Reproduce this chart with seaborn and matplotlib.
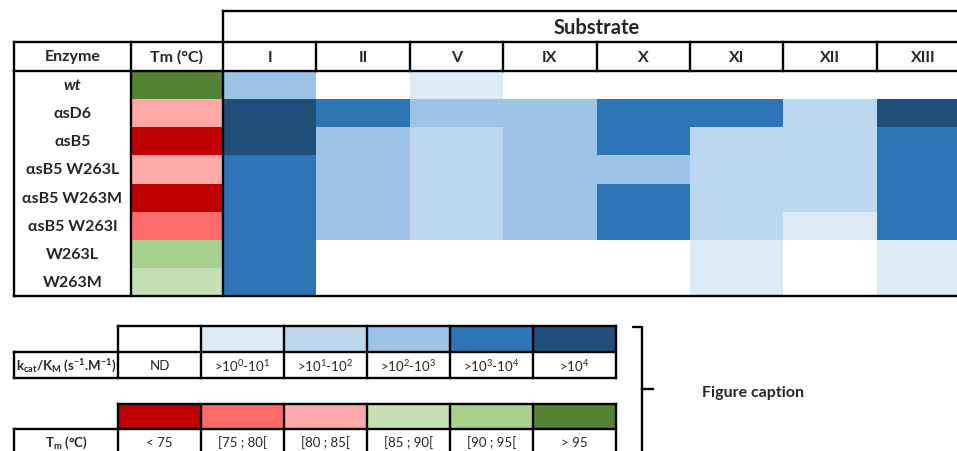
import numpy as np
import pandas as pd
import matplotlib
matplotlib.use("Agg")
import matplotlib.pyplot as plt
from matplotlib.colors import ListedColormap
import seaborn as sns

# values
enzymes = ["wt", "αsD6", "αsB5", "αsB5 W263L", "αsB5 W263M", "αsB5 W263I", "W263L", "W263M"]
substrates = ["I", "II", "V", "IX", "X", "XI", "XII", "XIII"]

# kcat/KM class per enzyme (rows) and substrate (columns): 0 = ND ... 5 = >10^4
activity = [
    [3, 0, 1, 0, 0, 0, 0, 0],
    [5, 4, 3, 3, 4, 4, 2, 5],
    [5, 3, 2, 3, 4, 2, 2, 4],
    [4, 3, 2, 3, 3, 2, 2, 4],
    [4, 3, 2, 3, 4, 2, 2, 4],
    [4, 3, 2, 3, 4, 2, 1, 4],
    [4, 0, 0, 0, 0, 1, 0, 1],
    [4, 0, 0, 0, 0, 1, 0, 1],
]

# Tm class per enzyme: 0 = <75 ... 5 = >95
tm_class = [5, 2, 0, 2, 0, 1, 4, 3]

kcat_labels = ["ND",
               r">10$^{\mathdefault{0}}$-10$^{\mathdefault{1}}$",
               r">10$^{\mathdefault{1}}$-10$^{\mathdefault{2}}$",
               r">10$^{\mathdefault{2}}$-10$^{\mathdefault{3}}$",
               r">10$^{\mathdefault{3}}$-10$^{\mathdefault{4}}$",
               r">10$^{\mathdefault{4}}$"]
tm_labels = ["< 75", "[75 ; 80[", "[80 ; 85[", "[85 ; 90[", "[90 ; 95[", "> 95"]

blues = ["#FFFFFF", "#DDEBF7", "#BDD7EE", "#9DC3E6", "#2E75B6", "#1F4E79"]
tm_colors = ["#C00000", "#FF6B6B", "#FFA8A8", "#C5E0B4", "#A9D18E", "#548235"]

sns.set_style("white")
plt.rcParams["font.family"] = ["Lato", "DejaVu Sans"]
plt.rcParams["mathtext.fontset"] = "custom"
plt.rcParams["mathtext.rm"] = "Lato"
plt.rcParams["mathtext.it"] = "Lato:italic"
plt.rcParams["mathtext.bf"] = "Lato:bold"

W, H = 957, 452
fig = plt.figure(figsize=(W / 100, H / 100), dpi=100)


def px_axes(x0, y0, x1, y1):
    # axes placed with pixel coordinates (origin top left)
    return fig.add_axes([x0 / W, 1 - y1 / H, (x1 - x0) / W, (y1 - y0) / H])


def cells(ax, values, colors):
    sns.heatmap(values, cmap=ListedColormap(colors), vmin=-0.5, vmax=len(colors) - 0.5,
                cbar=False, xticklabels=False, yticklabels=False, ax=ax)
    ax.set_axis_off()


# layout in pixels
left, c_enz, c_tm = 14, 131, 223
cw = 93.4
top_head, head_bot, tab_bot = 43, 72, 297
rh = (tab_bot - head_bot) / len(enzymes)
sub_right = c_tm + cw * len(substrates)

# main heatmaps
act_df = pd.DataFrame(activity, index=enzymes, columns=substrates)
cells(px_axes(c_tm, head_bot, sub_right, tab_bot), act_df, blues)
tm_df = pd.DataFrame({"Tm": tm_class}, index=enzymes)
cells(px_axes(c_enz, head_bot, c_tm, tab_bot), tm_df, tm_colors)

# legend heatmaps
lg_x0, lg_x1 = 118, 616
lgw = (lg_x1 - lg_x0) / 6
k_y0, k_y1, k_y2 = 327, 353, 379
t_y0, t_y1, t_y2 = 405, 430, 456
cells(px_axes(lg_x0, k_y0, lg_x1, k_y1), [list(range(6))], blues)
cells(px_axes(lg_x0, t_y0, lg_x1, t_y1), [list(range(6))], tm_colors)

# overlay for lines and texts
ov = fig.add_axes([0, 0, 1, 1], zorder=10)
ov.set_xlim(0, W)
ov.set_ylim(H, 0)
ov.set_axis_off()
ov.patch.set_alpha(0)

lw = 1.7


def hline(y, x0, x1):
    ov.plot([x0, x1], [y, y], color="black", lw=lw, solid_capstyle="projecting")


def vline(x, y0, y1):
    ov.plot([x, x], [y0, y1], color="black", lw=lw, solid_capstyle="projecting")


# main table frame
hline(12, c_tm, W + 5)
vline(c_tm, 12, tab_bot)
for y in (top_head, head_bot, tab_bot):
    hline(y, left, W + 5)
vline(left, top_head, tab_bot)
vline(c_enz, top_head, tab_bot)
for i in range(1, len(substrates)):
    vline(c_tm + i * cw, top_head, head_bot)

ov.text((c_tm + sub_right) / 2, 28, "Substrate", ha="center", va="center",
        fontsize=14.5, fontweight="bold")
hy = (top_head + head_bot) / 2
ov.text((left + c_enz) / 2, hy, "Enzyme", ha="center", va="center", fontsize=11.5, fontweight="bold")
ov.text((c_enz + c_tm) / 2, hy, "Tm (°C)", ha="center", va="center", fontsize=11.5, fontweight="bold")
for i, s in enumerate(substrates):
    ov.text(c_tm + (i + 0.5) * cw, hy, s, ha="center", va="center", fontsize=11.5, fontweight="bold")
for i, e in enumerate(enzymes):
    ov.text((left + c_enz) / 2, head_bot + (i + 0.5) * rh, e, ha="center", va="center",
            fontsize=11.5, fontweight="bold", style="italic" if e == "wt" else "normal")

# legend tables
for ya, yb, yc, labels, title in [
    (k_y0, k_y1, k_y2, kcat_labels,
     r"k$_{\mathdefault{cat}}$/K$_{\mathdefault{M}}$ (s$^{\mathdefault{-1}}$.M$^{\mathdefault{-1}}$)"),
    (t_y0, t_y1, t_y2, tm_labels, r"T$_{\mathdefault{m}}$ (°C)"),
]:
    hline(ya, lg_x0, lg_x1)
    hline(yb, left, lg_x1)
    hline(yc, left, lg_x1)
    vline(left, yb, yc)
    for i in range(7):
        vline(lg_x0 + i * lgw, ya, yc)
    ov.text((left + lg_x0) / 2, (yb + yc) / 2, title, ha="center", va="center",
            fontsize=9.5, fontweight="bold")
    for i, lab in enumerate(labels):
        ov.text(lg_x0 + (i + 0.5) * lgw, (yb + yc) / 2, lab, ha="center", va="center", fontsize=9.5)

# bracket and caption
ov.plot([633, 642, 642], [328, 328, H + 5], color="black", lw=lw)
hline(390, 642, 653)
ov.text(702, 393, "Figure caption", ha="left", va="center", fontsize=11.5, fontweight="bold")

fig.savefig("out.png", dpi=100)
